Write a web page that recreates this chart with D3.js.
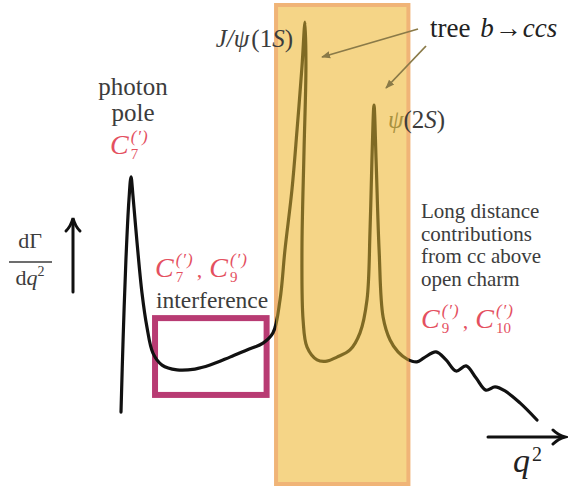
<!DOCTYPE html>
<html>
<head>
<meta charset="utf-8">
<script src="https://cdn.jsdelivr.net/npm/d3@7"></script>
<style>
  html, body { margin: 0; padding: 0; background: #fff; }
  svg { display: block; }
</style>
</head>
<body>
<svg id="chart" width="568" height="487"></svg>
<script>
// Schematic dΓ/dq² of b → s ℓℓ versus q² (GeV²), arbitrary rate units
const q2 = [0.00, 0.11, 0.26, 0.42, 0.53, 0.63, 0.85, 1.11, 1.37, 1.69,
            2.17, 2.96, 3.91, 4.71, 5.76, 6.66, 7.51, 8.04, 8.41, 8.67,
            9.04, 9.31, 9.57, 9.73, 9.78, 9.68, 9.57, 9.63, 9.84, 10.37,
            10.89, 11.42, 12.11, 12.64, 13.01, 13.17, 13.27, 13.38, 13.49, 13.65,
            13.86, 14.23, 14.65, 15.13, 15.65, 16.02, 16.66, 17.19, 17.72, 18.25,
            18.77, 19.30, 19.78, 20.31, 21.10, 22.00];
const rate = [2.0, 20.1, 40.2, 55.3, 61.1, 56.5, 44.5, 31.9, 23.4, 16.8,
              13.8, 12.6, 12.8, 13.8, 15.8, 17.6, 19.3, 21.9, 30.2, 42.7,
              57.8, 72.9, 88.7, 100.0, 88.7, 67.8, 42.7, 25.1, 18.3, 15.1,
              14.8, 15.8, 17.6, 21.9, 30.2, 47.7, 65.3, 79.1, 65.3, 42.7,
              25.9, 20.1, 17.1, 15.3, 14.6, 15.6, 17.1, 15.1, 12.3, 13.6,
              10.6, 7.5, 8.3, 7.3, 4.3, 0.0];

// Regions
const resonanceBand = [8.2, 15.2];          // charmonium region (q²)
const interferenceQ2 = [1.8, 7.7];          // C7–C9 interference window (q²)
const interferenceRate = [6.3, 25.6];       // vertical extent of that window

// Peaks referenced by labels
const photonPole = { q2: 0.53, rate: 61.1 };
const jpsi = { q2: 9.73, rate: 100.0 };
const psi2s = { q2: 13.38, rate: 79.1 };

// Text lines
const longDistanceLines = ["Long distance", "contributions", "from cc above", "open charm"];

const svg = d3.select("#chart");
const W = 568, H = 487;

const x = d3.scaleLinear().domain([0, 22]).range([121, 537]);
const y = d3.scaleLinear().domain([0, 100]).range([420, 22]);

const serif = "'Liberation Serif', 'DejaVu Serif', serif";
const grey = "#3c3c3c";
const red = "#e4505f";
const olive = "#7f6a24";

const defs = svg.append("defs");
defs.append("clipPath").attr("id", "inBand")
  .append("rect")
  .attr("x", x(resonanceBand[0])).attr("y", 0)
  .attr("width", x(resonanceBand[1]) - x(resonanceBand[0])).attr("height", H);
defs.append("clipPath").attr("id", "outBand")
  .append("path")
  .attr("clip-rule", "evenodd")
  .attr("d", `M0,0H${W}V${H}H0Z M${x(resonanceBand[0])},0V${H}H${x(resonanceBand[1])}V0Z`);
defs.append("marker").attr("id", "oliveHead")
  .attr("viewBox", "0 0 10 10").attr("refX", 9).attr("refY", 5)
  .attr("markerWidth", 5).attr("markerHeight", 5).attr("orient", "auto")
  .append("path").attr("d", "M0,1 L10,5 L0,9 Z").attr("fill", "#8a7a48");

// Charmonium band
svg.append("rect")
  .attr("x", x(resonanceBand[0]))
  .attr("y", 5)
  .attr("width", x(resonanceBand[1]) - x(resonanceBand[0]))
  .attr("height", 479)
  .attr("fill", "#f5d587")
  .attr("stroke", "#f0b477")
  .attr("stroke-width", 4);

// Interference window
svg.append("rect")
  .attr("x", x(interferenceQ2[0]))
  .attr("y", y(interferenceRate[1]))
  .attr("width", x(interferenceQ2[1]) - x(interferenceQ2[0]))
  .attr("height", y(interferenceRate[0]) - y(interferenceRate[1]))
  .attr("fill", "none")
  .attr("stroke", "#b83b73")
  .attr("stroke-width", 6);

// Spectrum curve
const pts = q2.map((q, i) => [q, rate[i]]);
const line = d3.line()
  .x(d => x(d[0]))
  .y(d => y(d[1]))
  .curve(d3.curveCatmullRom.alpha(0.5));

svg.append("path")
  .attr("d", line(pts))
  .attr("clip-path", "url(#outBand)")
  .attr("fill", "none").attr("stroke", "#111").attr("stroke-width", 3.2)
  .attr("stroke-linejoin", "round").attr("stroke-linecap", "round");
svg.append("path")
  .attr("d", line(pts))
  .attr("clip-path", "url(#inBand)")
  .attr("fill", "none").attr("stroke", olive).attr("stroke-width", 3.2)
  .attr("stroke-linejoin", "round").attr("stroke-linecap", "round");

// Wilson-coefficient label: C_n^(′) terms separated by commas
function coefficient(x0, base, subs) {
  const g = svg.append("g").attr("fill", red).attr("font-family", serif);
  let cx = x0;
  subs.forEach((s, i) => {
    if (i > 0) {
      const c = g.append("text").attr("x", cx + 3).attr("y", base).attr("font-size", 22).text(",");
      cx += 3 + c.node().getComputedTextLength() + 7;
    }
    const C = g.append("text").attr("x", cx).attr("y", base)
      .attr("font-size", 28).attr("font-style", "italic").text("C");
    const sx = cx + C.node().getComputedTextLength() + 2;
    const sup = g.append("text").attr("x", sx).attr("y", base - 12)
      .attr("font-size", 17).attr("font-style", "italic").attr("letter-spacing", 1).text("(′)");
    const sub = g.append("text").attr("x", sx).attr("y", base + 5)
      .attr("font-size", 15).text(s);
    cx = sx + Math.max(sup.node().getComputedTextLength(), sub.node().getComputedTextLength());
  });
}

// Photon pole annotation
const ppx = x(photonPole.q2) + 2;
svg.append("text").attr("x", ppx).attr("y", 95).attr("text-anchor", "middle")
  .attr("font-family", serif).attr("font-size", 25).attr("fill", grey).text("photon");
svg.append("text").attr("x", ppx).attr("y", 121).attr("text-anchor", "middle")
  .attr("font-family", serif).attr("font-size", 25).attr("fill", grey).text("pole");
coefficient(110, 154, ["7"]);

// Interference annotation
coefficient(155, 277, ["7", "9"]);
svg.append("text").attr("x", 156).attr("y", 308)
  .attr("font-family", serif).attr("font-size", 23.5).attr("fill", grey).text("interference");

// Resonance labels
svg.append("text").attr("x", x(jpsi.q2) - 12).attr("y", 47).attr("text-anchor", "end")
  .attr("font-family", serif).attr("font-size", 25).attr("fill", grey)
  .call(t => {
    t.append("tspan").attr("font-style", "italic").text("J/ψ");
    t.append("tspan").attr("dx", 2).text("(1");
    t.append("tspan").attr("font-style", "italic").text("S");
    t.append("tspan").text(")");
  });
svg.append("text").attr("x", x(psi2s.q2) + 14).attr("y", 128)
  .attr("font-family", serif).attr("font-size", 25).attr("fill", grey)
  .call(t => {
    t.append("tspan").attr("font-style", "italic").attr("fill", "#a8913f").text("ψ");
    t.append("tspan").text("(2");
    t.append("tspan").attr("font-style", "italic").text("S");
    t.append("tspan").text(")");
  });

// tree b → ccs with pointers to the two peaks
svg.append("text").attr("x", 430).attr("y", 37)
  .attr("font-family", serif).attr("font-size", 27).attr("fill", "#222")
  .call(t => {
    t.append("tspan").text("tree ");
    t.append("tspan").attr("dx", 3).attr("font-style", "italic").text("b");
    t.append("tspan").attr("dx", 1).text("→");
    t.append("tspan").attr("dx", 1).attr("font-style", "italic").text("ccs");
  });
svg.append("line").attr("x1", 418).attr("y1", 29).attr("x2", x(jpsi.q2) + 17).attr("y2", 57)
  .attr("stroke", "#8a7a48").attr("stroke-width", 1.8).attr("marker-end", "url(#oliveHead)");
svg.append("line").attr("x1", 426).attr("y1", 46).attr("x2", x(psi2s.q2) + 12).attr("y2", 88)
  .attr("stroke", "#8a7a48").attr("stroke-width", 1.8).attr("marker-end", "url(#oliveHead)");

// Long-distance note and high-q² coefficients
longDistanceLines.forEach((s, i) => {
  svg.append("text").attr("x", 421).attr("y", 218 + i * 22.5)
    .attr("font-family", serif).attr("font-size", 21).attr("fill", grey).text(s);
});
coefficient(421, 328, ["9", "10"]);

// Axes arrows
const ax = svg.append("g").attr("stroke", "#111").attr("stroke-width", 3).attr("fill", "none")
  .attr("stroke-linecap", "round");
ax.append("line").attr("x1", 73).attr("y1", 292).attr("x2", 73).attr("y2", 220);
ax.append("path").attr("d", "M66,231 Q71,226 73,218 Q75,226 80,231");
ax.append("line").attr("x1", 488).attr("y1", 437).attr("x2", 563).attr("y2", 437);
ax.append("path").attr("d", "M553,430 Q558,435 565,437 Q558,439 553,444");

// dΓ/dq² label
svg.append("text").attr("x", 30).attr("y", 248).attr("text-anchor", "middle")
  .attr("font-family", serif).attr("font-size", 22).attr("fill", grey).text("dΓ");
svg.append("line").attr("x1", 9).attr("x2", 52).attr("y1", 262).attr("y2", 262)
  .attr("stroke", grey).attr("stroke-width", 1.5);
svg.append("text").attr("x", 30).attr("y", 285).attr("text-anchor", "middle")
  .attr("font-family", serif).attr("font-size", 22).attr("fill", grey)
  .call(t => {
    t.append("tspan").text("d");
    t.append("tspan").attr("font-style", "italic").text("q");
    t.append("tspan").attr("font-size", 14).attr("dy", -9).text("2");
  });

// q² label
svg.append("text").attr("x", 513).attr("y", 472)
  .attr("font-family", serif).attr("font-size", 34).attr("font-style", "italic").attr("fill", "#222")
  .call(t => {
    t.append("tspan").text("q");
    t.append("tspan").attr("font-style", "normal").attr("font-size", 20).attr("dx", 2).attr("dy", -11).text("2");
  });
</script>
</body>
</html>
